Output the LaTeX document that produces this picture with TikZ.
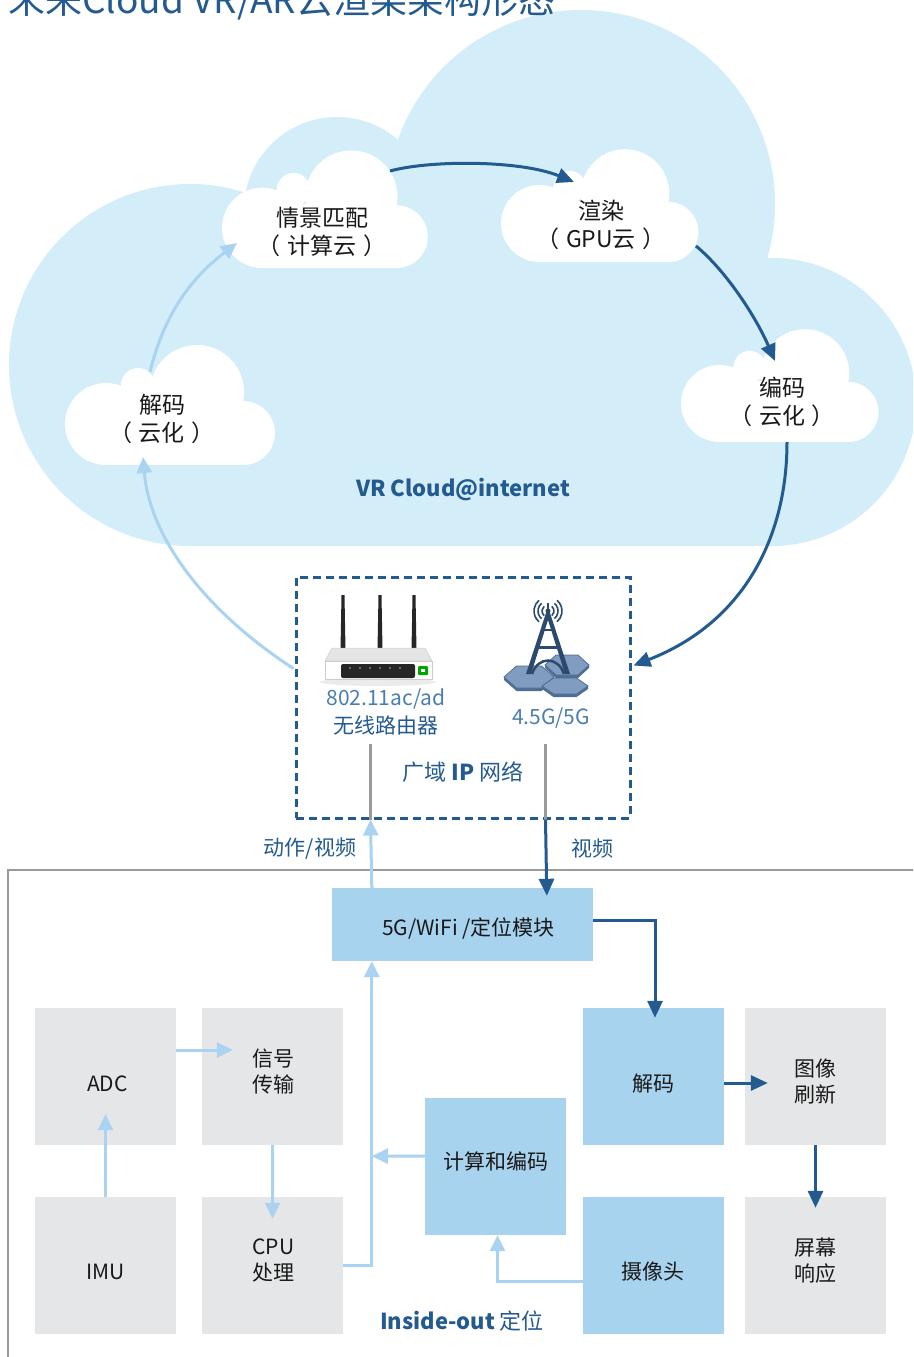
\documentclass[tikz,border=0pt]{standalone}
\usepackage{fontspec}
\setmainfont{Noto Sans CJK SC}
\usetikzlibrary{arrows.meta,calc}

\definecolor{darkblue}{HTML}{235A8F}
\definecolor{midblue}{HTML}{4B7EB0}
\definecolor{lightarrow}{HTML}{A9D3F0}
\definecolor{cloudfill}{HTML}{D3EDF9}
\definecolor{boxblue}{HTML}{A8D3EF}
\definecolor{boxgrey}{HTML}{E5E6E8}
\definecolor{linegrey}{HTML}{9A9A9A}
\definecolor{towerblue}{HTML}{2C4A6E}
\definecolor{hexfill}{HTML}{809CBF}
\definecolor{hexside}{HTML}{4F6E94}

\newcommand\bxfont{\fontsize{21}{26}\selectfont}
\newcommand\cldfont{\fontsize{23}{28}\selectfont}
\newcommand\lblfont{\fontsize{21}{26}\selectfont}
\newcommand\ttlfont{\fontsize{37}{40}\selectfont}
% fullwidth brackets with some air on the inside
\newcommand\lpar{（\kern7pt}
\newcommand\rpar{\kern7pt）}

% small white cloud: #1 = left x, #2 = bottom y, #3 = scale
\newcommand\puffcloud[3]{%
  \begin{scope}[shift={(#1,#2)}, scale=#3]
    \fill[white] (41,-41) circle (41);
    \fill[white] (73,-80) circle (17);
    \fill[white] (132,-73) circle (47);
    \fill[white] (178,-32) circle (32);
    \fill[white] (41,-65) rectangle (178,0);
  \end{scope}}

% flattened hexagon tile: #1 = centre, #2 = x radius, #3 = y radius
\newcommand\hextile[3]{%
  \fill[hexside] ($(#1)+(-#2,3)$) -- ($(#1)+(-#2/2,#3+3)$) -- ($(#1)+(#2/2,#3+3)$) -- ($(#1)+(#2,3)$)
     -- ($(#1)+(#2,0)$) -- ($(#1)+(-#2,0)$) -- cycle;
  \filldraw[fill=hexfill, draw=hexside, line width=0.8pt]
     ($(#1)+(-#2,0)$) -- ($(#1)+(-#2/2,-#3)$) -- ($(#1)+(#2/2,-#3)$) -- ($(#1)+(#2,0)$)
     -- ($(#1)+(#2/2,#3)$) -- ($(#1)+(-#2/2,#3)$) -- cycle;}

\tikzset{
  lbarrow/.style={draw=lightarrow, line width=3pt, -{Triangle[width=15pt,length=16pt]}},
  dbarrow/.style={draw=darkblue, line width=3pt, -{Triangle[width=15pt,length=17pt]}},
  greybox/.style={fill=boxgrey, minimum width=141pt, minimum height=137pt, inner sep=0pt},
  bluebox/.style={greybox, fill=boxblue},
  boxtext/.style={text=black!90, align=center, font=\bxfont, inner sep=0pt},
  cloudlabel/.style={align=center, font=\cldfont, text=black!90},
  bluelabel/.style={text=darkblue, font=\lblfont, align=center},
}

\begin{document}
\begin{tikzpicture}[x=1pt, y=-1pt]
\useasboundingbox (0,0) rectangle (913,1357);
\clip (0,0) rectangle (913,1357);

% ---------- large background cloud ----------
\fill[cloudfill] (190,365) circle (181);
\fill[cloudfill] (337,210) circle (93);
\fill[cloudfill] (581,204) circle (194);
\fill[cloudfill] (772,402) circle (144);
\fill[cloudfill] (190,365) -- (337,210) -- (581,204) -- (772,402) -- (772,546) -- (190,546) -- cycle;

% ---------- small white clouds ----------
\puffcloud{65}{465}{1}
\puffcloud{222}{268}{0.98}
\puffcloud{501}{262}{0.94}
\puffcloud{681}{442}{0.94}

\node[cloudlabel] (cdec)   at (162,419) {解码\\\lpar 云化\rpar};
\node[cloudlabel] (cmatch) at (322,232) {情景匹配\\\lpar 计算云\rpar};
\node[cloudlabel] (crend)  at (601,225) {渲染\\\lpar GPU云\rpar};
\node[cloudlabel] (cenc)   at (782,402) {编码\\\lpar 云化\rpar};

\node[text=darkblue, font=\fontsize{22}{26}\selectfont\bfseries] (vrc) at (463,490) {VR Cloud@internet};

% ---------- title ----------
\node[anchor=base west, inner sep=0pt, text=darkblue, font=\ttlfont] (title) at (8,13)
  {未来Cloud VR/AR云渲染架构形态};

% ---------- wide-area IP network ----------
\node[draw=darkblue, line width=3pt, dash pattern=on 8pt off 5pt,
      minimum width=334pt, minimum height=241pt, inner sep=0pt] (wan) at (463,697.5) {};

% router
\fill[black!8] (378,682) ellipse (58 and 4);
\foreach \ax in {343,380,414} {
  \fill[black!85] (\ax-1.5,595) -- (\ax+1.5,595) -- (\ax+2.5,650) -- (\ax-2.5,650) -- cycle;
}
\filldraw[fill=black!10, draw=black!20, line width=0.5pt] (332,648) -- (425,648) -- (432,661) -- (325,661) -- cycle;
\filldraw[fill=white, draw=black!20, line width=0.5pt] (325,661) rectangle (432,679);
\fill[black!85, rounded corners=2pt] (341,664) rectangle (415,678);
\foreach \dx in {350,360,...,405} { \fill[white!70!black] (\dx,668) circle (0.8); }
\fill[green!65!black, rounded corners=1pt] (418,666) rectangle (428,675);
\fill[white] (421,669) rectangle (425,672);

% cell tower on hexagonal tiles
\hextile{567,665}{22}{10}
\hextile{529,677}{25}{11}
\hextile{565,686}{23}{8}
\begin{scope}[draw=towerblue, line width=1.6pt]
  \foreach \r in {6,10,14} {
    \draw (548,611) ++(-50:\r) arc[start angle=-50, end angle=50, radius=\r];
    \draw (548,611) ++(130:\r) arc[start angle=130, end angle=230, radius=\r];
  }
\end{scope}
\fill[towerblue] (548,611) circle (2.5);
\draw[towerblue, line width=2pt] (548,603) -- (548,614);
\fill[towerblue] (546,613) -- (550,613) -- (570,674) -- (565,674) -- (548,620) -- (531,674) -- (526,674) -- cycle;
\draw[towerblue, line width=3pt] (535,647) -- (561,647);
\draw[towerblue, line width=2pt] (541,630) -- (555,630);
\draw[towerblue, line width=2.5pt] (532,674) .. controls (538,656) and (558,656) .. (564,674);

\node[text=midblue, font=\lblfont] (rlab) at (386,699) {802.11ac/ad};
\node[bluelabel] (rname) at (386,725) {无线路由器};
\node[text=midblue, font=\lblfont] (tlab) at (551,718) {4.5G/5G};
\node[bluelabel, font=\fontsize{22}{26}\selectfont] (wlab) at (463,772) {广域 \textbf{IP} 网络};

\draw[linegrey, line width=3pt] ($(wan.south west)+(76,-76)$) -- ($(wan.south west)+(76,0)$);
\draw[linegrey, line width=3pt] ($(wan.south west)+(251,-76)$) -- ($(wan.south west)+(251,0)$);

% ---------- cloud-side connectors ----------
\draw[lbarrow] ($(cdec)+(-12,-47)$) .. controls +(15,-62) and +(-42,32) .. ($(cmatch)+(-85,11)$);
\draw[dbarrow] ($(cmatch)+(68,-61)$) .. controls +(40,-11) and +(-54,-22) .. ($(crend)+(-27,-43)$);
\draw[dbarrow] ($(crend)+(95,21)$) .. controls +(29,24) and +(-20,-46) .. ($(cenc)+(-7,-41)$);
\draw[dbarrow] ($(cenc)+(5,40)$) .. controls +(0,98) and +(108,-42) .. ($(wan.north east)+(2,90)$);
\draw[lbarrow] ($(wan.north west)+(-1,93)$) .. controls +(-85,-55) and +(7,83) .. ($(cdec)+(-19,38)$);

% ---------- terminal frame ----------
\draw[linegrey, line width=2.5pt] (8,1362) -- (8,870) -- (918,870);

\node[bluelabel] (upl) at (310,849) {动作/视频};
\node[bluelabel] (dnl) at (592,849) {视频};

% ---------- terminal blocks ----------
\node[bluebox, minimum width=261pt, minimum height=73pt] (g5) at (462.5,924.5) {};
\node[greybox] (adc) at (105.5,1076.5) {};
\node[greybox] (sig) at (272.5,1076.5) {};
\node[greybox] (imu) at (105.5,1265.5) {};
\node[greybox] (cpu) at (272.5,1265.5) {};
\node[bluebox] (enc) at (495.5,1166.5) {};
\node[bluebox] (dec) at (653.5,1076.5) {};
\node[greybox] (img) at (815.5,1076.5) {};
\node[bluebox] (cam) at (653.5,1265.5) {};
\node[greybox] (scr) at (815.5,1265.5) {};

\node[boxtext] (g5t)  at ($(g5)+(6,4)$)    {5G/WiFi /定位模块};
\node[boxtext] (adct) at ($(adc)+(2,7.5)$) {ADC};
\node[boxtext] (sigt) at ($(sig)+(1,-5)$)  {信号\\传输};
\node[boxtext] (imut) at ($(imu)+(0,6.5)$) {IMU};
\node[boxtext] (cput) at ($(cpu)+(1,-5)$)  {CPU\\处理};
\node[boxtext] (enct) at ($(enc)+(0,-5)$)  {计算和编码};
\node[boxtext] (dect) at ($(dec)+(0,7.5)$) {解码};
\node[boxtext] (imgt) at ($(img)+(0,5)$)   {图像\\刷新};
\node[boxtext] (camt) at ($(cam)+(-1,6.5)$) {摄像头};
\node[boxtext] (scrt) at ($(scr)+(0,-5)$)  {屏幕\\响应};

\node[text=darkblue, font=\fontsize{22}{26}\selectfont] (inout) at (462,1321) {\textbf{Inside-out} 定位};

% ---------- terminal connectors ----------
\draw[lbarrow] ($(g5.north west)+(40,0)$) -- ($(wan.south west)+(76,0)$);
\draw[dbarrow] ($(wan.south west)+(251,0)$) -- ($(g5.north west)+(215,8)$);
\draw[lbarrow] ($(adc.east)+(0,-26.5)$) -- ($(sig.west)+(31,-26.5)$);
\draw[lbarrow] (imu.north) -- ($(adc.south)+(0,-31)$);
\draw[lbarrow] (sig.south) -- ($(cpu.north)+(0,22)$);
\draw[lbarrow] (cpu.east) -| ($(g5.south west)+(40,0)$);
\coordinate (bus) at ($(g5.south west)+(40,195)$);
\draw[lbarrow] ($(enc.west)+(0,-10.5)$) -- (bus);
\draw[lbarrow] ($(cam.west)+(0,16)$) -| ($(enc.south)+(2,0)$);
\draw[dbarrow] ($(g5.east)+(0,-4.5)$) -| ($(dec.north)+(1.5,10)$);
\draw[dbarrow] ($(dec.east)+(0,6.5)$) -- ($(img.west)+(23,6.5)$);
\draw[dbarrow] (img.south) -- ($(scr.north)+(0,11)$);
\end{tikzpicture}
\end{document}
